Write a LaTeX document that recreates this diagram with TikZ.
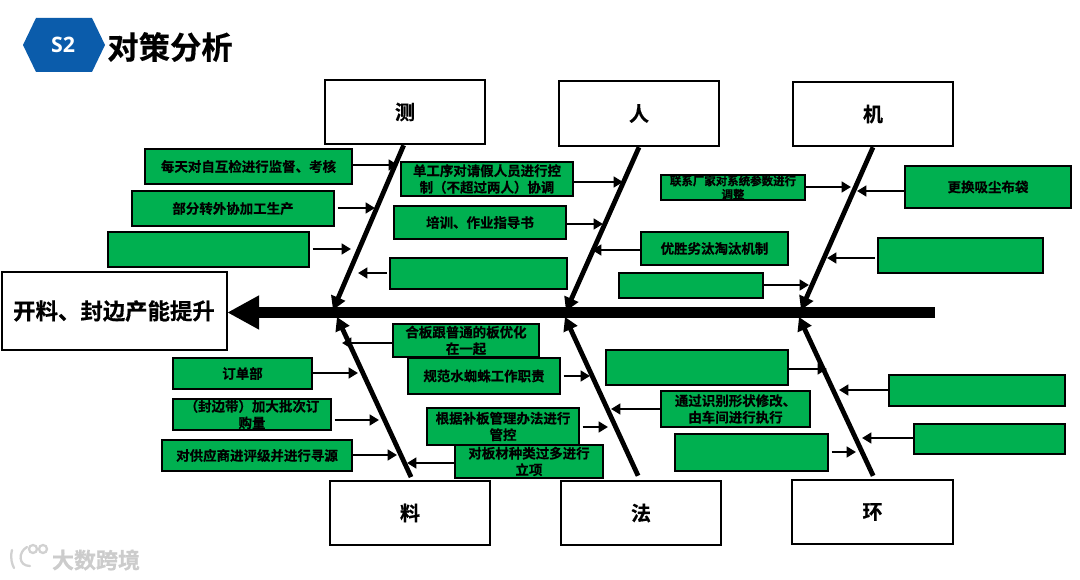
\documentclass[tikz,border=0pt]{standalone}
\usepackage{fontspec}
\usetikzlibrary{arrows.meta}
\setmainfont{Noto Sans CJK SC}[BoldFont={Noto Sans CJK SC Bold},BoldFeatures={FakeBold=0.5}]
\newfontfamily\latinbold{Open Sans}[BoldFont={Open Sans Bold}]
\definecolor{leaf}{HTML}{00B050}
\definecolor{hexblue}{HTML}{0B5CAB}
\tikzset{
  px/.style={x=0.75pt,y=-0.75pt},
  greenbox/.style={draw=black,fill=leaf,line width=1.6pt,inner sep=0pt,align=center,font=\bfseries\fontsize{10.1pt}{12.4pt}\selectfont},
  whitebox/.style={draw=black,fill=white,line width=1.9pt,inner sep=0pt,font=\bfseries\fontsize{15pt}{18pt}\selectfont},
  rib/.style={line width=3.6pt,-{Triangle[length=10pt,width=11pt]}},
  twig/.style={line width=1.9pt,-{Triangle[length=7pt,width=8pt]}},
  spine/.style={line width=8.2pt,-{Triangle[length=24pt,width=24pt]}},
}
\newcommand{\gbox}[6]{\node[greenbox,minimum width={(#4-#2)*0.75pt},minimum height={(#5-#3)*0.75pt},text width={(#4-#2)*0.75pt}] (#1) at ({(#2+#4)/2},{(#3+#5)/2}) {#6};}
\newcommand{\wbox}[6]{\node[whitebox,minimum width={(#4-#2)*0.75pt},minimum height={(#5-#3)*0.75pt}] (#1) at ({(#2+#4)/2},{(#3+#5)/2}) {#6};}
\begin{document}
\begin{tikzpicture}[px]
\useasboundingbox (0,0) rectangle (1080,580);
\fill[white] (0,0) rectangle (1080,580);
% header
\fill[hexblue] (23,45) -- (36,18) -- (92,18) -- (105,45) -- (92,72) -- (36,72) -- cycle;
\node[text=white,font=\latinbold\bfseries\fontsize{16pt}{18pt}\selectfont,inner sep=0pt] (badge) at (63,45) {S2};
\node[font=\bfseries\fontsize{23.5pt}{28pt}\selectfont,inner sep=0pt] (title) at (170,47) {对策分析};
% watermark
\begin{scope}[draw=black!18,line width=1.7pt,line cap=round]
\draw (12,550) .. controls (10,558) and (12,564) .. (14,568);
\draw (27,547) .. controls (18,552) and (18,566) .. (30,566);
\draw (33,549) circle (4);
\draw (43,549) circle (4);
\end{scope}
\node[text=black!20,font=\bfseries\fontsize{16.5pt}{20pt}\selectfont,inner sep=0pt] (mark) at (96,560) {大数跨境};
% head and category boxes
\wbox{head}{2}{272}{227}{350}{}
\node[font=\bfseries\fontsize{16.8pt}{20pt}\selectfont,inner sep=0pt] (headtext) at (114,311) {开料、封边产能提升};
\wbox{ce}{325}{80}{485}{144}{测}
\wbox{ren}{559}{81}{719}{146}{人}
\wbox{ji}{793}{82}{953}{146}{机}
\wbox{liao}{330}{481}{490}{545}{料}
\wbox{fa}{561}{481}{721}{545}{法}
\wbox{huan}{792}{480}{953}{544}{环}
% spine and ribs
\coordinate (tail) at (935,312.5);
\draw[spine] (tail) -- ([xshift=-0.8pt]head.east |- tail);
\coordinate (s1) at (333,310);
\coordinate (s2) at (566,311);
\coordinate (s3) at (801,310);
\coordinate (s4) at (337,317);
\coordinate (s5) at (565,317);
\coordinate (s6) at (799,317);
\draw[rib] (ce.south) ++(-1pt,0) -- (s1);
\draw[rib] (ren.south) -- (s2);
\draw[rib] (ji.south) -- (s3);
\draw[rib] ([xshift=0.8pt,yshift=2pt]liao.north) -- (s4);
\draw[rib] ([xshift=-2.2pt,yshift=3pt]fa.north) -- (s5);
\draw[rib] ([xshift=0.5pt,yshift=2.2pt]huan.north) -- (s6);
% green boxes, upper
\gbox{a1}{145}{149}{352}{184}{每天对自互检进行监督、考核}
\gbox{a2}{132}{191}{334}{226}{部分转外协加工生产}
\gbox{a3}{108}{232}{309}{267}{}
\gbox{b1}{401}{162}{573}{196}{单工序对请假人员进行控\\制（不超过两人）协调}
\gbox{b2}{394}{206}{566}{239}{培训、作业指导书}
\gbox{b3}{390}{258}{567}{289}{}
\gbox{c1}{641}{232}{788}{265}{优胜劣汰淘汰机制}
\gbox{c2}{619}{273}{763}{298}{}
\node[greenbox,font=\bfseries\fontsize{8.6pt}{10pt}\selectfont,minimum width={144*0.75pt},minimum height={25*0.75pt},text width={144*0.75pt}] (d1) at (733,187.5) {联系厂家对系统参数进行\\调整};
\gbox{d2}{905}{166}{1071}{208}{更换吸尘布袋}
\gbox{d3}{878}{238}{1043}{273}{}
% green boxes, lower
\gbox{e2}{408}{358}{560}{394}{规范水蜘蛛工作职责}
\gbox{e1}{393}{324}{539}{357}{合板跟普通的板优化\\在一起}
\gbox{f1}{173}{358}{312}{389}{订单部}
\gbox{f2}{173}{399}{331}{430}{（封边带）加大批次订\\购量}
\gbox{f3}{162}{440}{352}{471}{对供应商进评级并进行寻源}
\gbox{e3}{427}{408}{579}{445}{根据补板管理办法进行\\管控}
\gbox{e4}{455}{445}{603}{478}{对板材种类过多进行\\立项}
\gbox{g1}{606}{350}{788}{385}{}
\gbox{g2}{661}{391}{810}{427}{通过识别形状修改、\\由车间进行执行}
\gbox{g3}{675}{434}{828}{471}{}
\gbox{h1}{889}{375}{1065}{406}{}
\gbox{h2}{914}{424}{1065}{454}{}
% twig tips
\coordinate (ta1) at (398,165);
\coordinate (ta2) at (375,208);
\coordinate (ta3) at (351,249);
\coordinate (tb1) at (623,182);
\coordinate (tb2) at (603,224);
\coordinate (tb3) at (358,273);
\coordinate (tc1) at (592,250);
\coordinate (tc2) at (809,285);
\coordinate (td1) at (851,187);
\coordinate (td2) at (857,191);
\coordinate (td3) at (827,258);
\coordinate (te1) at (342,343);
\coordinate (te2) at (590,376);
\coordinate (te3) at (608,427);
\coordinate (te4) at (407,463);
\coordinate (tf1) at (358,373);
\coordinate (tf2) at (379,420);
\coordinate (tf3) at (397,455);
\coordinate (tg1) at (827,369);
\coordinate (tg2) at (611,409);
\coordinate (tg3) at (856,452);
\coordinate (th1) at (839,390);
\coordinate (th2) at (862,438);
% twigs
\draw[twig] (a1.east |- ta1) -- (ta1);
\draw[twig] ([xshift=2pt]a2.east |- ta2) -- (ta2);
\draw[twig] ([xshift=2pt]a3.east |- ta3) -- (ta3);
\draw[twig] (b1.east |- tb1) -- (tb1);
\draw[twig] (b2.east |- tb2) -- (tb2);
\draw[twig] ([xshift=-1.5pt]b3.west |- tb3) -- (tb3);
\draw[twig] (c1.west |- tc1) -- (tc1);
\draw[twig] (c2.east |- tc2) -- (tc2);
\draw[twig] (d1.east |- td1) -- (td1);
\draw[twig] (d2.west |- td2) -- (td2);
\draw[twig] ([xshift=-1.5pt]d3.west |- td3) -- (td3);
\draw[twig] (e1.west |- te1) -- (te1);
\draw[twig] ([xshift=2pt]e2.east |- te2) -- (te2);
\draw[twig] ([xshift=2pt]e3.east |- te3) -- (te3);
\draw[twig] (e4.west |- te4) -- (te4);
\draw[twig] (f1.east |- tf1) -- (tf1);
\draw[twig] ([xshift=2pt]f2.east |- tf2) -- (tf2);
\draw[twig] (f3.east |- tf3) -- (tf3);
\draw[twig] (g1.east |- tg1) -- (tg1);
\draw[twig] (g2.west |- tg2) -- (tg2);
\draw[twig] ([xshift=2pt]g3.east |- tg3) -- (tg3);
\draw[twig] (h1.west |- th1) -- (th1);
\draw[twig] (h2.west |- th2) -- (th2);
\end{tikzpicture}
\end{document}
